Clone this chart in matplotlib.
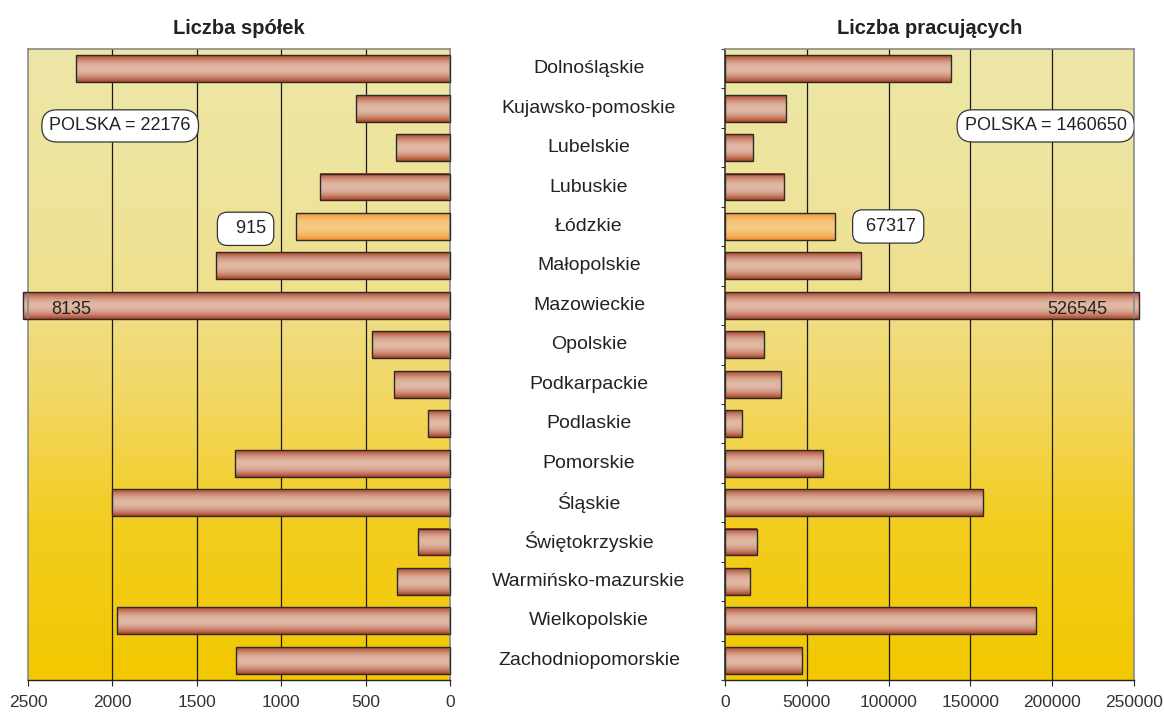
import numpy as np
import matplotlib
matplotlib.use("Agg")
import matplotlib.pyplot as plt
import matplotlib.transforms as mtransforms
from matplotlib.colors import LinearSegmentedColormap

plt.rcParams['font.family'] = ['Liberation Sans', 'DejaVu Sans']

regions = ["Dolnośląskie", "Kujawsko-pomoskie", "Lubelskie", "Lubuskie", "Łódzkie",
           "Małopolskie", "Mazowieckie", "Opolskie", "Podkarpackie", "Podlaskie",
           "Pomorskie", "Śląskie", "Świętokrzyskie", "Warmińsko-mazurskie",
           "Wielkopolskie", "Zachodniopomorskie"]
spolki = [2213, 558, 322, 770, 915, 1385, 8135, 461, 333, 129, 1271, 2001, 188, 313, 1970, 1269]
pracujacy = [137900, 37500, 17200, 36100, 67317, 83100, 526545, 24100, 34300, 10100,
             60000, 158000, 19300, 15200, 190200, 47300]
highlight = "Łódzkie"
left_title = "Liczba spółek"
right_title = "Liczba pracujących"
left_ticks = [2500, 2000, 1500, 1000, 500, 0]
right_ticks = [0, 50000, 100000, 150000, 200000, 250000]
polska_spolki = "POLSKA = 22176"
polska_prac = "POLSKA = 1460650"

W, H = 1164, 715
fig = plt.figure(figsize=(W / 100, H / 100), dpi=100)
fig.patch.set_facecolor('white')

def axrect(l, r, t, b):
    return [l / W, (H - b) / H, (r - l) / W, (b - t) / H]

axL = fig.add_axes(axrect(28, 450, 49, 680))
axR = fig.add_axes(axrect(725, 1134, 49, 680))

n = len(regions)
ypos = np.arange(n)
bh = 0.68

bg_cmap = LinearSegmentedColormap.from_list(
    "bg", [(0.0, "#F2C800"), (0.25, "#F3CD20"), (0.45, "#F2D765"), (0.62, "#F0E08E"),
           (0.8, "#EEE49E"), (1.0, "#EDE6A6")])
bg = np.linspace(0, 1, 256)[:, None]

def bar_grad(dark, light):
    t = np.linspace(0, 1, 40)
    prof = np.sin(np.pi * t) ** 0.8
    dark = np.array(dark) / 255.0
    light = np.array(light) / 255.0
    return (dark[None, :] + (light - dark)[None, :] * prof[:, None])[:, None, :]

g_norm = bar_grad((170, 62, 32), (224, 184, 164))
g_hi = bar_grad((238, 148, 45), (246, 202, 130))

def setup(ax, vals, xmax, ticks, invert):
    ax.imshow(bg, extent=(0, 1, 0, 1), transform=ax.transAxes, cmap=bg_cmap,
              aspect='auto', origin='lower', zorder=0, interpolation='bilinear')
    disp = [min(v, xmax * 1.012) for v in vals]
    bars = ax.barh(ypos, disp, height=bh, facecolor='none', edgecolor='#2a2a2a',
                   linewidth=1.0, zorder=3, clip_on=False)
    for b, name in zip(bars, regions):
        x0, x1 = b.get_x(), b.get_x() + b.get_width()
        y0, y1 = b.get_y(), b.get_y() + b.get_height()
        g = g_hi if name == highlight else g_norm
        im = ax.imshow(g, extent=(x0, x1, y1, y0), aspect='auto', zorder=2,
                       interpolation='bilinear')
        im.set_clip_on(False)
    for t in ticks:
        if t not in (0, xmax):
            ax.axvline(t, color='#1a1a1a', lw=0.9, zorder=1)
    if invert:
        ax.set_xlim(xmax, 0)
    else:
        ax.set_xlim(0, xmax)
    ax.set_ylim(n - 0.5, -0.5)
    ax.set_xticks(ticks)
    ax.set_xticklabels([str(t) for t in ticks], fontsize=12.5, color='#333333')
    ax.tick_params(axis='x', direction='out', length=4, color='#222222', pad=7)
    for s in ax.spines.values():
        s.set_color('#8a8a8a')
        s.set_linewidth(1.2)
    ax.spines['bottom'].set_color('#222222')
    ax.spines['bottom'].set_linewidth(1.0)

setup(axL, spolki, 2500, left_ticks, True)
setup(axR, pracujacy, 250000, right_ticks, False)

axL.set_yticks([])
axR.set_yticks(np.arange(n + 1) - 0.5)
axR.set_yticklabels([])
axR.tick_params(axis='y', direction='out', length=3, color='#333333')
axR.spines['left'].set_color('#333333')

axL.set_title(left_title, fontsize=14.5, fontweight='bold', color='#222222', pad=11)
axR.set_title(right_title, fontsize=14.5, fontweight='bold', color='#222222', pad=11)

# category labels in the middle
trans = mtransforms.blended_transform_factory(fig.transFigure, axR.transData)
for y, name in zip(ypos, regions):
    fig.text(589 / W, y, name, transform=trans, ha='center', va='center',
             fontsize=14, color='#222222')

box = dict(boxstyle='round,pad=0.42,rounding_size=0.85', facecolor='white',
           edgecolor='#333333', linewidth=0.9)
axL.text(1954, 1.45, polska_spolki, ha='center', va='center', fontsize=13,
         color='#222222', bbox=box, zorder=5)
axR.text(146500, 1.45, polska_prac, ha='left', va='center', fontsize=13,
         color='#222222', bbox=box, zorder=5, clip_on=True)

box2 = dict(boxstyle='round,pad=0.45,rounding_size=0.55', facecolor='white',
            edgecolor='#333333', linewidth=0.9)
iL = regions.index(highlight)
axL.text(1211, iL + 0.06, "  " + str(spolki[iL]), ha='center', va='center', fontsize=13,
         color='#222222', bbox=box2, zorder=5)
axR.text(99750, iL, " " + str(pracujacy[iL]), ha='center', va='center', fontsize=13,
         color='#222222', bbox=box2, zorder=5)

iM = regions.index("Mazowieckie")
axL.text(2242, iM + 0.1, str(spolki[iM]), ha='center', va='center', fontsize=13,
         color='#222222', zorder=5)
axR.text(215500, iM + 0.1, str(pracujacy[iM]), ha='center', va='center', fontsize=13,
         color='#222222', zorder=5)

fig.savefig("out.png", dpi=100)
